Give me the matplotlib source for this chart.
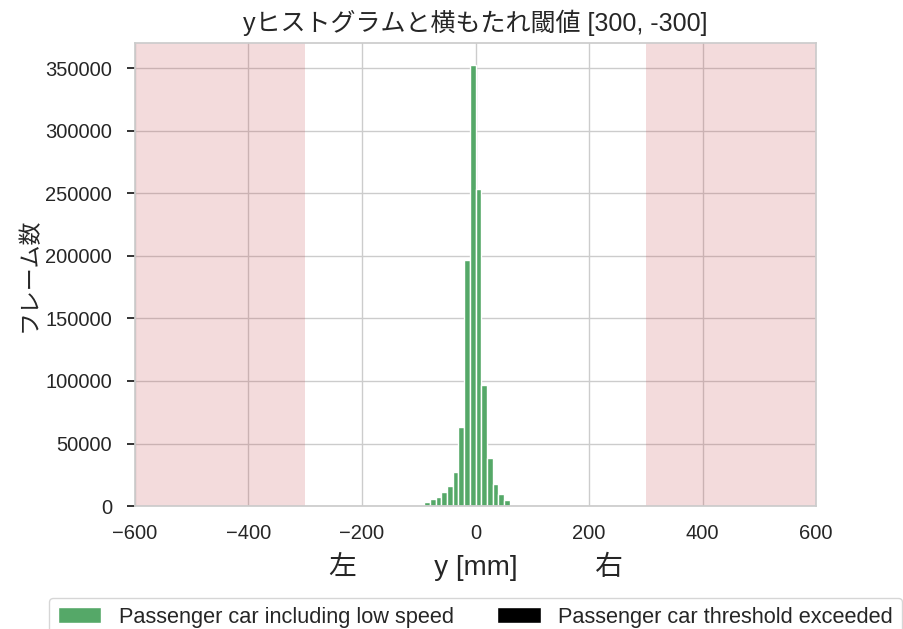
import numpy as np
import matplotlib
matplotlib.use("Agg")
import matplotlib.pyplot as plt
import seaborn as sns

sns.set_theme(style="whitegrid")
plt.rcParams["font.family"] = ["Liberation Sans", "Noto Sans CJK JP", "DejaVu Sans"]
plt.rcParams["axes.unicode_minus"] = True

# histogram of lateral position y [mm], 10 mm bins
bin_edges = np.arange(-90, 61, 10)
counts_all = [3500, 5900, 6900, 11500, 16000, 27200, 63500, 197000,
              352600, 253600, 96400, 38700, 17300, 9300, 4500]
counts_exceeded = [0] * len(counts_all)

threshold_left = -300
threshold_right = 300
x_range = (-600, 600)

labels = ["Passenger car including low speed", "Passenger car threshold exceeded"]
colors = ["#55A868", "black"]

fig = plt.figure(figsize=(9.04, 6.29), dpi=100)
ax = fig.add_axes([0.1493, 0.1955, 0.7534, 0.7361])

centers = (bin_edges[:-1] + bin_edges[1:]) / 2
ax.hist(centers, bins=bin_edges, weights=counts_all, color=colors[0],
        edgecolor="white", linewidth=1, label=labels[0])
ax.hist(centers, bins=bin_edges, weights=counts_exceeded, color=colors[1],
        edgecolor="white", linewidth=1, label=labels[1])

span_color = sns.color_palette("deep")[3]
ax.axvspan(x_range[0], threshold_left, color=span_color, alpha=0.2, lw=0)
ax.axvspan(threshold_right, x_range[1], color=span_color, alpha=0.2, lw=0)

ax.set_xlim(*x_range)
ax.set_xticks(np.arange(-600, 601, 200))
ax.set_yticks(np.arange(0, 350001, 50000))
ax.tick_params(axis="x", labelsize=14.5, pad=7)
ax.yaxis.set_tick_params(which="major", left=True, length=6, width=1.4,
                         color="#333333", labelsize=14.5, pad=10.5)

ax.set_title("yヒストグラムと横もたれ閾値 [300, -300]", fontsize=18, pad=9)
ax.set_xlabel("左          y [mm]          右", fontsize=20, labelpad=6)
ax.set_ylabel("フレーム数", fontsize=16.5, labelpad=3)

ax.legend(loc="upper center", bbox_to_anchor=(0.5, -0.175), ncol=2,
          fontsize=15.7, frameon=True)

fig.savefig("out.png", dpi=100)
